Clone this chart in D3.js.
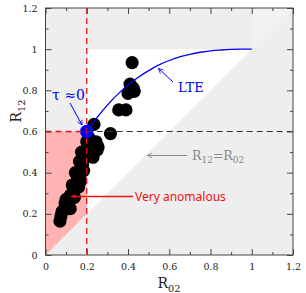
<!DOCTYPE html>
<html><head><meta charset="utf-8">
<script src="https://cdn.jsdelivr.net/npm/d3@7"></script>
<style>body{margin:0;background:#fff}svg{display:block}</style>
</head><body>
<svg id="c" width="306" height="293"></svg>
<script>
// Data
const pointsX = [0.42,0.41,0.425,0.40,0.43,0.355,0.39,0.315,0.235,0.255,0.25,0.23,0.175,0.20,0.21,0.18,0.165,0.145,0.17,0.16,0.135,0.12,0.10,0.095,0.12,0.08,0.07,0.215,0.19,0.155,0.13,0.11,0.09,0.075,0.14,0.185,0.245];
const pointsY = [0.935,0.83,0.81,0.785,0.795,0.705,0.705,0.59,0.635,0.525,0.51,0.475,0.50,0.55,0.57,0.44,0.455,0.40,0.36,0.33,0.31,0.29,0.27,0.25,0.225,0.21,0.165,0.52,0.48,0.375,0.34,0.26,0.22,0.19,0.28,0.41,0.55];
const lteX = [0.2,0.24,0.28,0.32,0.36,0.40,0.45,0.50,0.55,0.60,0.65,0.70,0.75,0.80,0.85,0.90,0.95,1.0];
const lteY = [0.6,0.655,0.705,0.75,0.79,0.826,0.864,0.896,0.924,0.945,0.962,0.975,0.985,0.992,0.996,0.999,1.0,1.0];
const tauPoint = [0.2, 0.6];
const majorTicks = [0,0.2,0.4,0.6,0.8,1.0,1.2];
const minorTicks = [0.1,0.3,0.5,0.7,0.9,1.1];
const tickLabels = ["0","0.2","0.4","0.6","0.8","1","1.2"];

const svg = d3.select("#c");
const x = d3.scaleLinear([0,1.2],[45.5,293]);
const y = d3.scaleLinear([0,1.2],[255,8]);
const serif = "'DejaVu Serif', serif";

// backgrounds
const poly = pts => pts.map(p => [x(p[0]), y(p[1])].join(",")).join(" ");
svg.append("rect").attr("x",x(0)).attr("y",y(1.2)).attr("width",x(1.2)-x(0)).attr("height",y(0)-y(1.2)).attr("fill","#eeeeee");
svg.append("polygon").attr("points",poly([[1,1],[1.2,1.2],[1,1.2]])).attr("fill","#f2f2f2");
svg.append("polygon").attr("points",poly([[0.2,0.2],[0.2,1],[1,1]])).attr("fill","#ffffff");
svg.append("polygon").attr("points",poly([[0,0],[0,0.6],[0.2,0.6],[0.2,0.2]])).attr("fill","#ffb3b3");

// points
svg.append("g").selectAll("circle").data(pointsX.map((d,i)=>[d,pointsY[i]])).join("circle")
  .attr("cx",d=>x(d[0])).attr("cy",d=>y(d[1])).attr("r",6.6).attr("fill","#000");
svg.append("circle").attr("cx",x(tauPoint[0])).attr("cy",y(tauPoint[1])).attr("r",6.8).attr("fill","#0000ff");

// dashed lines
svg.append("line").attr("x1",x(0.2)).attr("x2",x(1.2)).attr("y1",y(0.6)).attr("y2",y(0.6))
  .attr("stroke","#333").attr("stroke-width",1).attr("stroke-dasharray","6,4");
svg.append("line").attr("x1",x(0)).attr("x2",x(0.2)).attr("y1",y(0.6)).attr("y2",y(0.6))
  .attr("stroke","#ee1111").attr("stroke-width",1.3).attr("stroke-dasharray","6,4");
svg.append("line").attr("x1",x(0.2)).attr("x2",x(0.2)).attr("y1",y(1.2)).attr("y2",y(0))
  .attr("stroke","#ee1111").attr("stroke-width",1.3).attr("stroke-dasharray","6,4");

// LTE curve
svg.append("path").datum(lteX.map((d,i)=>[d,lteY[i]]))
  .attr("d",d3.line().x(d=>x(d[0])).y(d=>y(d[1])).curve(d3.curveMonotoneX))
  .attr("fill","none").attr("stroke","#0000ee").attr("stroke-width",1.3);

// axes
function addAxis(axisFn, transform, vals, size, labels){
  const a = axisFn.tickValues(vals).tickSize(-size).tickPadding(8)
    .tickFormat(labels ? ((d,i)=>labels[i]) : "");
  const g = svg.append("g").attr("transform",transform).call(a);
  g.select(".domain").remove();
  g.selectAll("line").attr("stroke","#444");
  g.selectAll("text").attr("font-family",serif).attr("font-size",9.5).attr("fill","#222");
  return g;
}
addAxis(d3.axisBottom(x),`translate(0,${y(0)})`,majorTicks,6,tickLabels);
addAxis(d3.axisBottom(x),`translate(0,${y(0)})`,minorTicks,3,null);
addAxis(d3.axisTop(x),`translate(0,${y(1.2)})`,majorTicks,6,null);
addAxis(d3.axisTop(x),`translate(0,${y(1.2)})`,minorTicks,3,null);
addAxis(d3.axisLeft(y),`translate(${x(0)},0)`,majorTicks,6,tickLabels);
addAxis(d3.axisLeft(y),`translate(${x(0)},0)`,minorTicks,3,null);
addAxis(d3.axisRight(y),`translate(${x(1.2)},0)`,majorTicks,6,null);
addAxis(d3.axisRight(y),`translate(${x(1.2)},0)`,minorTicks,3,null);

// frame
svg.append("rect").attr("x",x(0)).attr("y",y(1.2)).attr("width",x(1.2)-x(0)).attr("height",y(0)-y(1.2))
  .attr("fill","none").attr("stroke","#444").attr("stroke-width",1);

// axis titles
function subLabel(g, main, sub, size){
  const t = g.append("text").attr("font-family",serif).attr("font-size",size).attr("text-anchor","middle");
  t.append("tspan").text(main);
  t.append("tspan").attr("font-size",size*0.7).attr("dy",size*0.3).text(sub);
  return t;
}
subLabel(svg,"R","02",14).attr("x",169).attr("y",288).attr("fill","#222");
subLabel(svg.append("g").attr("transform","translate(21,111) rotate(-90)"),"R","12",14).attr("fill","#222");

// arrows
svg.append("defs").html(`
<marker id="ab" viewBox="0 0 10 10" refX="9" refY="5" markerWidth="6" markerHeight="6" orient="auto"><path d="M1,1 L9,5 L1,9" fill="none" stroke="#0000ee" stroke-width="1.3"/></marker>
<marker id="ag" viewBox="0 0 10 10" refX="9" refY="5" markerWidth="6" markerHeight="6" orient="auto"><path d="M1,1 L9,5 L1,9" fill="none" stroke="#888" stroke-width="1.3"/></marker>
<marker id="ar" viewBox="0 0 10 10" refX="8" refY="5" markerWidth="5" markerHeight="5" orient="auto"><path d="M1,2 L9,5 L1,8 Z" fill="#ee1111"/></marker>`);
svg.append("line").attr("x1",70).attr("y1",103).attr("x2",82).attr("y2",125).attr("stroke","#0000ee").attr("stroke-width",1).attr("marker-end","url(#ab)");
svg.append("line").attr("x1",173).attr("y1",82).attr("x2",158.5).attr("y2",68.5).attr("stroke","#0000ee").attr("stroke-width",1).attr("marker-end","url(#ab)");
svg.append("line").attr("x1",187).attr("y1",155.5).attr("x2",147.5).attr("y2",155.5).attr("stroke","#888").attr("stroke-width",1).attr("marker-end","url(#ag)");
svg.append("line").attr("x1",133).attr("y1",196.5).attr("x2",71).attr("y2",196.5).attr("stroke","#ee1111").attr("stroke-width",1.3).attr("marker-end","url(#ar)");

// labels
svg.append("text").attr("x",52).attr("y",100).attr("font-family",serif).attr("font-size",14).attr("fill","#0000ee").text("τ ≈0");
svg.append("text").attr("x",178).attr("y",91.5).attr("font-family",serif).attr("font-size",13).attr("fill","#0000ee").text("LTE");
const rr = svg.append("text").attr("x",192).attr("y",160).attr("font-family",serif).attr("font-size",12.5).attr("fill","#888");
rr.append("tspan").text("R");
rr.append("tspan").attr("font-size",9).attr("dy",3).text("12");
rr.append("tspan").attr("dy",-3).text("=R");
rr.append("tspan").attr("font-size",9).attr("dy",3).text("02");
svg.append("text").attr("x",135).attr("y",201).attr("font-family","'Noto Sans', sans-serif").attr("font-size",12).attr("fill","#ee1111").text("Very anomalous");
</script>
</body></html>
